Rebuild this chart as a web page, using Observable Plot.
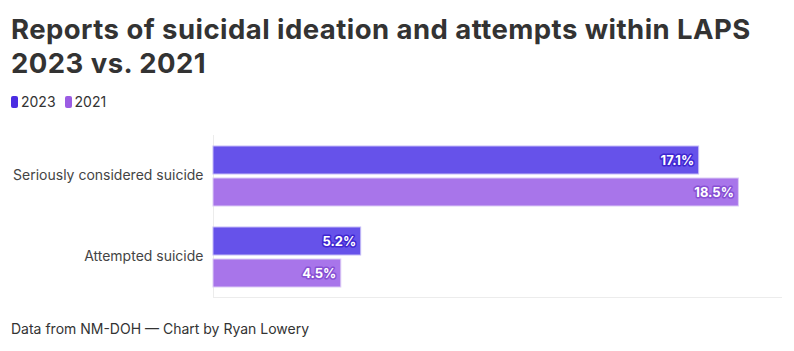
<!DOCTYPE html>
<html><head><meta charset="utf-8">
<script src="https://cdn.jsdelivr.net/npm/d3@7"></script>
<script src="https://cdn.jsdelivr.net/npm/@observablehq/plot@0.6"></script>
<style>
body{margin:0;background:#fff;font-family:Inter,"Open Sans",sans-serif;color:#333;width:794px;height:351px;position:relative;overflow:hidden}
#title{position:absolute;left:11px;top:12px;font-size:27.5px;line-height:34px;font-weight:700;color:#333;letter-spacing:0.45px}
#legend{position:absolute;left:11px;top:93px;font-size:14px;color:#333;display:flex;align-items:center}
#legend span.sw{display:inline-block;width:7px;height:12px;border-radius:2px;margin-right:3px}
#legend span.it{display:inline-flex;align-items:center;margin-right:9px}
#chart{position:absolute;left:0;top:120px}
#caption{position:absolute;left:11px;top:320px;font-size:14px;color:#333}
</style></head>
<body>
<div id="title">Reports of suicidal ideation and attempts within LAPS<br>2023 vs. 2021</div>
<div id="legend"></div>
<div id="chart"></div>
<div id="caption">Data from NM-DOH — Chart by Ryan Lowery</div>
<script>
const categories = ["Seriously considered suicide", "Attempted suicide"];
const years = ["2023", "2021"];
const values2023 = [17.1, 5.2];
const values2021 = [18.5, 4.5];
const legendColors = ["#4b2de2", "#9b5ce3"];
const barColors = ["#6652ea", "#a875ea"];
const haloColors = ["#3f26d2", "#8750d4"];

const legend = document.getElementById("legend");
years.forEach((y, i) => {
  const it = document.createElement("span"); it.className = "it";
  const sw = document.createElement("span"); sw.className = "sw"; sw.style.background = legendColors[i];
  it.appendChild(sw); it.appendChild(document.createTextNode(y));
  legend.appendChild(it);
});

const d23 = categories.map((c, i) => ({category: c, value: values2023[i]}));
const d21 = categories.map((c, i) => ({category: c, value: values2021[i]}));
const fmt = d => d.value.toFixed(1) + "%";

const plot = Plot.plot({
  width: 794, height: 190,
  marginLeft: 213, marginRight: 13, marginTop: 15, marginBottom: 13,
  style: {fontFamily: "Inter, 'Open Sans', sans-serif", fontSize: "14px", color: "#444", background: "transparent"},
  x: {domain: [0, 20], axis: null},
  y: {domain: categories, padding: 0, label: null, tickSize: 0, tickPadding: 10},
  marks: [
    Plot.frame({anchor: "bottom", stroke: "#ececec", strokeOpacity: 1}),
    Plot.ruleX([0], {stroke: "#ececec"}),
    Plot.barX(d23, {x: "value", y: "category", fill: barColors[0], stroke: "#c4baf7", strokeWidth: 1, insetTop: 11, insetBottom: 42}),
    Plot.barX(d21, {x: "value", y: "category", fill: barColors[1], stroke: "#dccbf6", strokeWidth: 1, insetTop: 43, insetBottom: 10}),
    Plot.text(d23, {x: "value", y: "category", text: fmt, dy: -15, dx: -5, textAnchor: "end", fill: "white", stroke: haloColors[0], strokeWidth: 3, fontWeight: 700, fontSize: 13}),
    Plot.text(d21, {x: "value", y: "category", text: fmt, dy: 17, dx: -5, textAnchor: "end", fill: "white", stroke: haloColors[1], strokeWidth: 3, fontWeight: 700, fontSize: 13})
  ]
});
document.getElementById("chart").appendChild(plot);
</script>
</body></html>
